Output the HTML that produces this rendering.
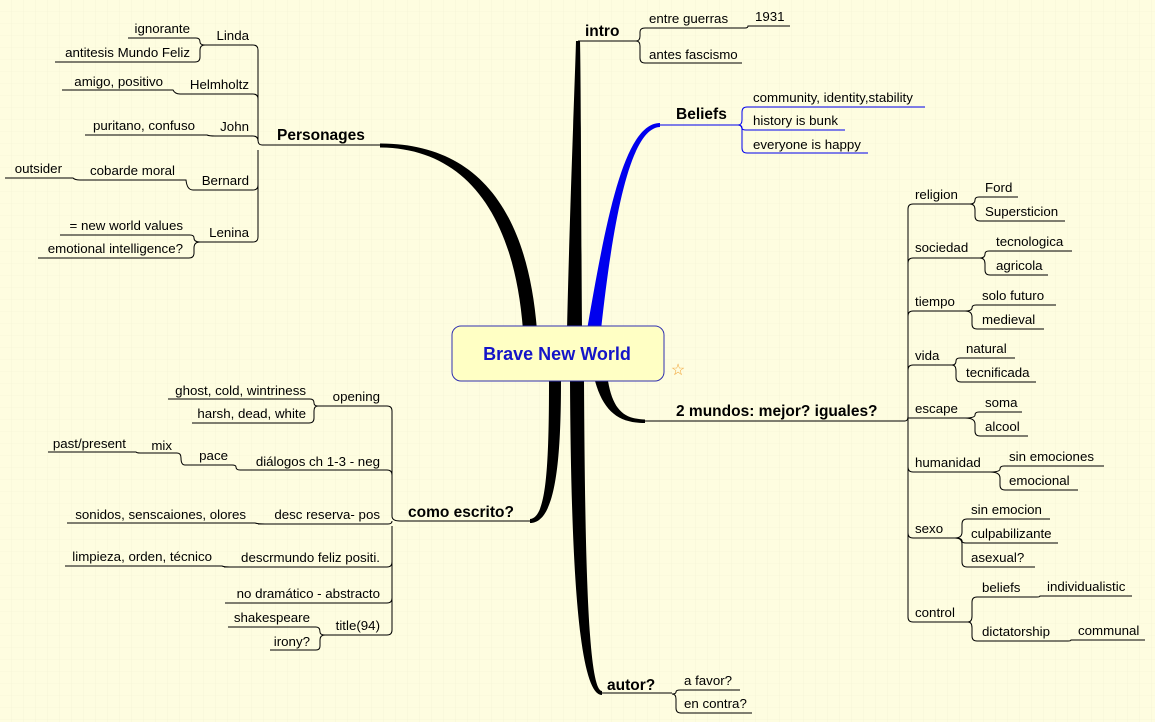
<!DOCTYPE html>
<html><head><meta charset="utf-8"><style>
html,body{margin:0;padding:0;background:#FEFDE0;}
svg{display:block;font-family:"Liberation Sans",sans-serif;}
.t{font-size:13.3px;fill:#000;}
.r{text-anchor:end;}
.b{font-size:15.5px;font-weight:bold;fill:#000;}
.l{stroke:#000;stroke-width:1;fill:none;}
.bl{stroke:#0000EE;stroke-width:1;fill:none;}
</style></head><body>
<svg width="1155" height="722" viewBox="0 0 1155 722">
<defs><pattern id="g" width="12" height="12" patternUnits="userSpaceOnUse"><path d="M12 0V12H0" fill="none" stroke="#F2F0D4" stroke-width="0.6"/></pattern></defs>
<rect width="1155" height="722" fill="#FEFDE0"/>
<rect width="1155" height="722" fill="url(#g)"/>

<!-- main branches (tapered) -->
<path d="M537 330 C527 205 474 143.5 380 143.5 L380 147.5 C464 148 514 212 523 330 Z" fill="#000"/>
<path d="M582 330 C581 200 581 80 580 41 L576 41 C575 80 570 200 567 330 Z" fill="#000"/>
<path d="M601 330 C613 220 630 128 660 127 L660 123 C624 123 606 220 587 330 Z" fill="#0000EE"/>
<path d="M595 381 C604 413 620 423 645 423 L645 419.5 C624 419 613 410 608 381 Z" fill="#000"/>
<path d="M570 381 C571 560 578 695 602 695 L602 691 C588 691 585 560 584 381 Z" fill="#000"/>
<path d="M561 381 C561 470 554 523 530 523 L530 519 C546 518 549 470 549 381 Z" fill="#000"/>
<g class="l">
<path d="M262 145H380"/><path d="M578 41H636"/><path d="M640 421H905"/><path d="M600 693H672"/><path d="M400 521H535"/>
</g>
<path class="bl" d="M655 125H738"/>

<!-- center -->
<rect x="452" y="326" width="212" height="55" rx="9" fill="#FFFFC4" stroke="#3030B0" stroke-width="1"/>
<text x="557" y="360" text-anchor="middle" style="font-size:18px;font-weight:bold;fill:#1414C8">Brave New World</text>
<text x="678" y="375" text-anchor="middle" style="font-size:16px;fill:#F0A030">☆</text>

<!-- main labels -->
<text class="b" x="585" y="36">intro</text>
<text class="b" x="676" y="119">Beliefs</text>
<text class="b" x="676" y="416">2 mundos: mejor? iguales?</text>
<text class="b" x="607" y="690">autor?</text>
<text class="b" x="408" y="517">como escrito?</text>
<text class="b" x="277" y="140">Personages</text>

<!-- intro -->
<g class="l">
<path d="M636 41Q640 41 640 36V32Q640 28 645 28H745"/>
<path d="M636 41Q640 41 640 46V58Q640 63 645 63H742"/>
<path d="M745 28Q748 28 748 26H790"/>
</g>
<text class="t" x="649" y="23">entre guerras</text>
<text class="t" x="755" y="21">1931</text>
<text class="t" x="649" y="59">antes fascismo</text>

<!-- beliefs -->
<g class="bl">
<path d="M738 125Q742 125 742 120V112Q742 107 747 107H925"/>
<path d="M738 125Q742 125 742 128Q742 130 746 130H845"/>
<path d="M738 125Q742 125 742 130V148Q742 153 747 153H868"/>
</g>
<text class="t" x="753" y="102">community, identity,stability</text>
<text class="t" x="753" y="125">history is bunk</text>
<text class="t" x="753" y="149">everyone is happy</text>

<!-- 2 mundos -->
<g class="l">
<path d="M905 421Q908 421 908 416V209Q908 204 913 204H970"/>
<path d="M908 263Q908 258 913 258H980"/>
<path d="M908 316Q908 311 913 311H965"/>
<path d="M908 370Q908 365 913 365H952"/>
<path d="M908 418H965"/>
<path d="M908 426V467Q908 472 913 472H990"/>
<path d="M908 470V533Q908 538 913 538H955"/>
<path d="M908 416V617Q908 622 913 622H968"/>
<path d="M970 204Q975 204 975 200Q975 197 979 197H1018"/><path d="M970 204Q975 204 975 210V216Q975 221 980 221H1065"/>
<path d="M980 258Q985 258 985 254Q985 251 989 251H1072"/><path d="M980 258Q985 258 985 264V270Q985 275 990 275H1048"/>
<path d="M965 311Q972 311 972 308Q972 305 976 305H1056"/><path d="M965 311Q972 311 972 317V324Q972 329 977 329H1044"/>
<path d="M952 365Q956 365 956 361Q956 358 960 358H1015"/><path d="M952 365Q956 365 956 371V377Q956 382 961 382H1036"/>
<path d="M965 418Q975 418 975 415Q975 412 979 412H1022"/><path d="M965 418Q975 418 975 424V431Q975 436 980 436H1028"/>
<path d="M990 472Q1000 472 1000 469Q1000 466 1004 466H1104"/><path d="M990 472Q1000 472 1000 478V485Q1000 490 1005 490H1078"/>
<path d="M955 538Q962 538 962 532V524Q962 519 967 519H1050"/><path d="M955 538Q962 538 962 541Q962 543 966 543H1058"/><path d="M955 538Q962 538 962 544V562Q962 567 967 567H1035"/>
<path d="M968 622Q972 622 972 616V602Q972 597 977 597H1037"/><path d="M968 622Q972 622 972 628V636Q972 641 977 641H1068"/>
<path d="M1037 597Q1040 597 1040 596H1132"/><path d="M1068 641Q1071 641 1071 640H1145"/>
</g>
<text class="t" x="915" y="199">religion</text>
<text class="t" x="985" y="192">Ford</text>
<text class="t" x="985" y="216">Supersticion</text>
<text class="t" x="915" y="252">sociedad</text>
<text class="t" x="996" y="246">tecnologica</text>
<text class="t" x="996" y="270">agricola</text>
<text class="t" x="915" y="306">tiempo</text>
<text class="t" x="982" y="300">solo futuro</text>
<text class="t" x="982" y="324">medieval</text>
<text class="t" x="915" y="360">vida</text>
<text class="t" x="966" y="353">natural</text>
<text class="t" x="966" y="377">tecnificada</text>
<text class="t" x="915" y="413">escape</text>
<text class="t" x="985" y="407">soma</text>
<text class="t" x="985" y="431">alcool</text>
<text class="t" x="915" y="467">humanidad</text>
<text class="t" x="1009" y="461">sin emociones</text>
<text class="t" x="1009" y="485">emocional</text>
<text class="t" x="915" y="533">sexo</text>
<text class="t" x="971" y="514">sin emocion</text>
<text class="t" x="971" y="538">culpabilizante</text>
<text class="t" x="971" y="562">asexual?</text>
<text class="t" x="915" y="617">control</text>
<text class="t" x="982" y="592">beliefs</text>
<text class="t" x="1047" y="591">individualistic</text>
<text class="t" x="982" y="636">dictatorship</text>
<text class="t" x="1078" y="635">communal</text>

<!-- autor -->
<g class="l">
<path d="M672 694Q676 694 676 692Q676 690 680 690H740"/>
<path d="M672 694Q676 694 676 699V708Q676 713 681 713H752"/>
</g>
<text class="t" x="684" y="685">a favor?</text>
<text class="t" x="684" y="708">en contra?</text>

<!-- Personages -->
<g class="l">
<path d="M262 145Q258 145 258 140V50Q258 45 253 45H205"/>
<path d="M258 99Q258 94 253 94H180"/>
<path d="M258 141Q258 136 253 136H215"/>
<path d="M258 150V185Q258 190 253 190H193"/>
<path d="M258 150V237Q258 242 253 242H200"/>
<path d="M205 45Q200 45 200 42Q200 38 196 38H128"/><path d="M205 45Q200 45 200 50V57Q200 62 195 62H55"/>
<path d="M180 94Q175 94 173 90H62"/>
<path d="M215 136Q209 136 207 135H85"/>
<path d="M193 190Q187 190 186 180H80"/><path d="M80 180Q75 180 73 178H5"/>
<path d="M200 242Q194 242 194 238Q194 235 190 235H60"/><path d="M200 242Q194 242 194 248V253Q194 258 189 258H38"/>
</g>
<g class="t r">
<text x="249" y="40">Linda</text>
<text x="190" y="33">ignorante</text>
<text x="190" y="57">antitesis Mundo Feliz</text>
<text x="249" y="89">Helmholtz</text>
<text x="163" y="86">amigo, positivo</text>
<text x="249" y="131">John</text>
<text x="195" y="130">puritano, confuso</text>
<text x="249" y="185">Bernard</text>
<text x="175" y="175">cobarde moral</text>
<text x="62" y="173">outsider</text>
<text x="249" y="237">Lenina</text>
<text x="183" y="230">= new world values</text>
<text x="183" y="253">emotional intelligence?</text>
</g>

<!-- como escrito -->
<g class="l">
<path d="M400 521Q392 521 392 516V411Q392 406 387 406H318"/>
<path d="M392 475Q392 470 387 470H240"/>
<path d="M392 521Q392 524 388 524H258"/>
<path d="M392 526V562Q392 567 387 567H224"/>
<path d="M392 526V598Q392 603 387 603H225"/>
<path d="M392 526V630Q392 635 387 635H325"/>
<path d="M318 406Q314 406 314 403Q314 399 310 399H168"/><path d="M318 406Q314 406 314 411V418Q314 423 309 423H192"/>
<path d="M240 470Q236 470 236 467Q236 465 232 465H185"/><path d="M185 465Q181 465 181 458Q181 453 177 453H140Q137 453 136 452H48"/>
<path d="M265 524Q258 524 255 523H67"/>
<path d="M230 567Q224 567 222 566H65"/>
<path d="M325 635Q320 635 320 632Q320 627 316 627H228"/><path d="M325 635Q320 635 320 640V646Q320 650 316 650H270"/>
</g>
<g class="t r">
<text x="380" y="401">opening</text>
<text x="306" y="395">ghost, cold, wintriness</text>
<text x="306" y="418">harsh, dead, white</text>
<text x="380" y="466">diálogos ch 1-3 - neg</text>
<text x="228" y="460">pace</text>
<text x="172" y="450">mix</text>
<text x="126" y="448">past/present</text>
<text x="380" y="519">desc reserva- pos</text>
<text x="246" y="519">sonidos, senscaiones, olores</text>
<text x="380" y="562">descrmundo feliz positi.</text>
<text x="212" y="561">limpieza, orden, técnico</text>
<text x="380" y="598">no dramático - abstracto</text>
<text x="380" y="630">title(94)</text>
<text x="310" y="622">shakespeare</text>
<text x="310" y="646">irony?</text>
</g>
</svg>
</body></html>
